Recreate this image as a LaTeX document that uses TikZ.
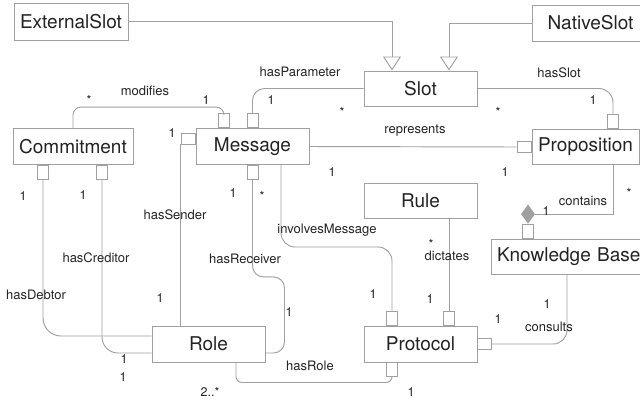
\documentclass[tikz,border=0pt]{standalone}
\usepackage{fontspec}
\setmainfont{TeX Gyre Heros}
\usetikzlibrary{arrows.meta,shapes.geometric}
\definecolor{linegray}{RGB}{160,160,160}
\definecolor{textgray}{RGB}{35,35,35}
\newcommand\Off{28.5pt}

\begin{document}
\begin{tikzpicture}[x=1pt,y=-1pt,line width=0.95pt,color=linegray]

  \tikzstyle{class}=[rectangle,draw,fill=white,minimum width=113pt,minimum height=36pt,
                     inner sep=0pt,text=textgray,font=\fontsize{19}{22}\selectfont]
  \tikzstyle{port}=[rectangle,draw,fill=white,minimum width=11pt,minimum height=14pt,inner sep=0pt]
  \tikzstyle{hport}=[port,minimum width=14pt,minimum height=11pt]
  \tikzstyle{lbl}=[inner sep=0pt,text=textgray,font=\fontsize{13}{15}\selectfont]
  \tikzstyle{mult}=[lbl,font=\fontsize{12.5}{15}\selectfont]
  \tikzstyle{isa}=[-{Triangle[open,length=14pt,width=18pt]}]

  \useasboundingbox (0,0) rectangle (640,400);

  % classes
  \node[class,minimum width=114pt,minimum height=37pt] (EXT) at (71,21.5)  {ExternalSlot};
  \node[class,minimum width=117pt] (NAT) at (590.5,23)   {NativeSlot};
  \node[class,minimum height=35pt] (SLT) at (420.5,88.5) {Slot};
  \node[class,minimum width=120pt] (CMT) at (73,146.5)   {Commitment};
  \node[class]                     (MSG) at (252.5,146.5) {Message};
  \node[class,minimum width=107pt,minimum height=35pt] (PRP) at (585.5,147) {Proposition};
  \node[class,minimum height=35pt] (RUL) at (420.5,200.5) {Rule};
  \node[class,minimum height=35pt,inner xsep=6pt,text width=157pt,align=left]
                                   (KB)  at (575.5,256.5) {Knowledge Base};
  \node[class]                     (ROL) at (208.5,344)  {Role};
  \node[class]                     (PRT) at (420.5,344)  {Protocol};

  % association ends
  \node[port,anchor=south]  (MSGt1) at ([xshift=-\Off]MSG.north) {};
  \node[port,anchor=south]  (MSGt2) at (MSG.north) {};
  \node[hport,anchor=east]  (MSGl)  at ([yshift=8pt]MSG.west) {};
  \node[port,anchor=north]  (MSGb)  at (MSG.south) {};
  \node[port,anchor=north]  (CMTb1) at ([xshift=-30pt]CMT.south) {};
  \node[port,anchor=north]  (CMTb2) at ([xshift=29pt]CMT.south) {};
  \node[hport,anchor=east]  (PRPl)  at (PRP.west) {};
  \node[port,anchor=south]  (PRPt)  at ([xshift=27.5pt]PRP.north) {};
  \node[port,anchor=south]  (KBt)   at ([xshift=37.5pt]KB.north west) {};
  \node[diamond,draw,fill=linegray,minimum width=13pt,minimum height=18pt,inner sep=0pt,
        anchor=south]       (DIA)   at (KBt.north) {};
  \node[port,anchor=south]  (PRTt1) at ([xshift=-\Off]PRT.north) {};
  \node[port,anchor=south]  (PRTt2) at ([xshift=\Off]PRT.north) {};
  \node[hport,anchor=west]  (PRTr)  at (PRT.east) {};
  \node[port,anchor=north]  (PRTb)  at ([xshift=-\Off]PRT.south) {};

  % generalisations
  \draw[isa] (EXT.east) -| ([xshift=-\Off]SLT.north);
  \draw[isa] (NAT.west) -| ([xshift=\Off]SLT.north);

  % associations
  \draw[rounded corners=12pt] (SLT.west) -| (MSGt2.north);
  \draw[rounded corners=8pt]  (CMT.north) -- ++(0,-21) -| (MSGt1.north);
  \draw (MSG.east) -- (PRPl.west);
  \draw[rounded corners=14pt] (SLT.east) -| (PRPt.north);
  \draw ([xshift=27.5pt]PRP.south) |- (DIA.east);
  \draw[rounded corners=14pt] ([xshift=-8.5pt]KB.south) |- (PRTr.east);
  \draw (RUL.south -| PRTt2.north) -- (PRTt2.north);
  \draw[rounded corners=14pt] ([xshift=\Off]MSG.south) -- ++(0,82) -| (PRTt1.north);
  \draw (MSGl.south west) -- (MSGl.south west |- ROL.north);
  \draw[rounded corners=11pt] (MSGb.south) -- ++(0,97) -- ++(32,0) |- ([yshift=-9pt]ROL.east);
  \draw[rounded corners=16pt] (CMTb2.south) |- ([yshift=-9pt]ROL.west);
  \draw[rounded corners=18pt] (CMTb1.south) |- ([yshift=8pt]ROL.west);
  \draw[rounded corners=6pt]  ([xshift=27.5pt]ROL.south) -- ++(0,20) -| (PRTb.south);

  % role names
  \node[lbl] (lPAR) at (300,72)  {hasParameter};
  \node[lbl] (lMOD) at (145,91)  {modifies};
  \node[lbl] (lSLT) at (559,73)  {hasSlot};
  \node[lbl] (lREP) at (415,131) {represents};
  \node[lbl] (lCON) at (583,201) {contains};
  \node[lbl] (lSND) at (175,215) {hasSender};
  \node[lbl] (lINV) at (327,230) {involvesMessage};
  \node[lbl] (lDIC) at (447,256) {dictates};
  \node[lbl] (lCRD) at (96,258)  {hasCreditor};
  \node[lbl] (lRCV) at (245,259) {hasReceiver};
  \node[lbl] (lDEB) at (36,295)  {hasDebtor};
  \node[lbl] (lCNS) at (549,327) {consults};
  \node[lbl] (lROL) at (310,366) {hasRole};

  % multiplicities
  \node[mult] (m1)  at (89,100)  {*};
  \node[mult] (m2)  at (206,100) {1};
  \node[mult] (m3)  at (271,100) {1};
  \node[mult] (m4)  at (342,112) {*};
  \node[mult] (m5)  at (593,100) {1};
  \node[mult] (m6)  at (498,112) {*};
  \node[mult] (m7)  at (172,133) {1};
  \node[mult] (m8)  at (332,172) {1};
  \node[mult] (m9)  at (505,172) {1};
  \node[mult] (m10) at (629,193) {*};
  \node[mult] (m11) at (546,211) {1};
  \node[mult] (m12) at (23,196)  {1};
  \node[mult] (m13) at (83,195)  {1};
  \node[mult] (m14) at (233,193) {1};
  \node[mult] (m15) at (262,196) {*};
  \node[mult] (m16) at (431,244) {*};
  \node[mult] (m17) at (373,294) {1};
  \node[mult] (m18) at (430,299) {1};
  \node[mult] (m19) at (547,304) {1};
  \node[mult] (m20) at (160,298) {1};
  \node[mult] (m21) at (289,312) {1};
  \node[mult] (m22) at (498,319) {1};
  \node[mult] (m23) at (124,359) {1};
  \node[mult] (m24) at (123,377) {1};
  \node[mult] (m25) at (210,392) {2..*};
  \node[mult] (m26) at (411,392) {1};

\end{tikzpicture}
\end{document}
